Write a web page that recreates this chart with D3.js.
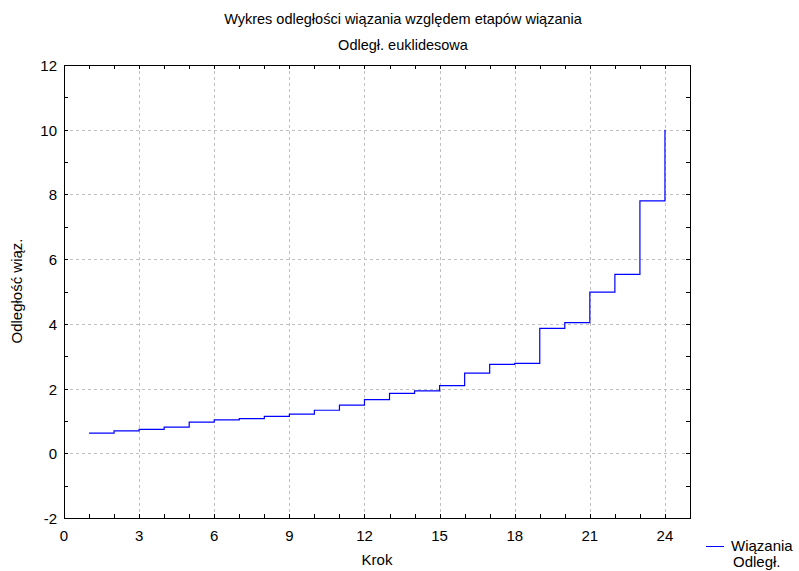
<!DOCTYPE html>
<html>
<head>
<meta charset="utf-8">
<script src="https://cdn.jsdelivr.net/npm/d3@7"></script>
<style>
body { margin: 0; background: #fff; }
text { font-family: "Liberation Sans", Arial, sans-serif; fill: #000; }
</style>
</head>
<body>
<div id="viz"></div>
<script>
// kroki wiązania i odległości
var steps = [1,2,3,4,5,6,7,8,9,10,11,12,13,14,15,16,17,18,19,20,21,22,23,24];
var distances = [0.62,0.69,0.74,0.81,0.96,1.03,1.07,1.14,1.21,1.33,1.49,1.66,1.85,1.93,2.09,2.48,2.75,2.78,3.86,4.04,4.98,5.53,7.80,10.0];
var xTicks = [0,3,6,9,12,15,18,21,24];
var yTicks = [-2,0,2,4,6,8,10,12];

var width = 799, height = 571;
var margin = {top: 65, right: 109, bottom: 53, left: 64};
var w = width - margin.left - margin.right;
var h = height - margin.top - margin.bottom;

var svg = d3.select("#viz").append("svg")
	.attr("width", width)
	.attr("height", height);

var x = d3.scaleLinear().domain([0, 25]).range([0, w]);
var y = d3.scaleLinear().domain([-2, 12]).range([h, 0]);

var g = svg.append("g").attr("transform", "translate(" + margin.left + "," + margin.top + ")");

// siatka
g.selectAll(".gx").data(xTicks.filter(d => d > 0))
	.enter().append("line")
	.attr("x1", d => Math.round(x(d)) + 0.5).attr("x2", d => Math.round(x(d)) + 0.5)
	.attr("y1", 0).attr("y2", h)
	.attr("stroke", "#c0c0c0").attr("stroke-dasharray", "3,3");
g.selectAll(".gy").data(yTicks.filter(d => d > -2 && d < 12))
	.enter().append("line")
	.attr("y1", d => Math.round(y(d)) + 0.5).attr("y2", d => Math.round(y(d)) + 0.5)
	.attr("x1", 0).attr("x2", w)
	.attr("stroke", "#c0c0c0").attr("stroke-dasharray", "3,3");

// osie (tick do środka)
var xAll = d3.range(0, 26), yAll = d3.range(-2, 13);
function ticksOn(sel, data, horiz, pos, dir) {
	sel.selectAll(null).data(data).enter().append("line")
		.attr("stroke", "#000")
		.each(function(d) {
			var l = d3.select(this);
			if (horiz) {
				var px = Math.round(x(d)) + 0.5;
				l.attr("x1", px).attr("x2", px).attr("y1", pos).attr("y2", pos + dir * 4);
			} else {
				var py = Math.round(y(d)) + 0.5;
				l.attr("y1", py).attr("y2", py).attr("x1", pos).attr("x2", pos + dir * 4);
			}
		});
}
ticksOn(g, xAll, true, h, -1);
ticksOn(g, xAll, true, 0, 1);
ticksOn(g, yAll, false, 0, 1);
ticksOn(g, yAll, false, w, -1);

g.append("rect")
	.attr("x", 0.5).attr("y", 0.5)
	.attr("width", w).attr("height", h)
	.attr("fill", "none").attr("stroke", "#000");

g.selectAll(".xl").data(xTicks).enter().append("text")
	.attr("x", d => x(d)).attr("y", h + 23)
	.attr("text-anchor", "middle").style("font-size", "15px")
	.text(d => d);
g.selectAll(".yl").data(yTicks).enter().append("text")
	.attr("x", -7).attr("y", d => y(d) + 6)
	.attr("text-anchor", "end").style("font-size", "15px")
	.text(d => d);

// linia schodkowa
var line = d3.line()
	.x(d => x(d[0])).y(d => y(d[1]))
	.curve(d3.curveStepAfter);
g.append("path")
	.datum(steps.map((s, i) => [s, distances[i]]))
	.attr("d", line)
	.attr("fill", "none").attr("stroke", "#0000ff").attr("stroke-width", 1.2);

// tytuły
svg.append("text").attr("x", 403).attr("y", 24).attr("text-anchor", "middle")
	.style("font-size", "14.5px").text("Wykres odległości wiązania względem etapów wiązania");
svg.append("text").attr("x", 403).attr("y", 50).attr("text-anchor", "middle")
	.style("font-size", "14.5px").text("Odległ. euklidesowa");
svg.append("text").attr("x", 377).attr("y", 565).attr("text-anchor", "middle")
	.style("font-size", "15px").text("Krok");
svg.append("text").attr("transform", "translate(22,291) rotate(-90)").attr("text-anchor", "middle")
	.style("font-size", "15px").text("Odległość wiąz.");

// legenda
svg.append("line").attr("x1", 706).attr("x2", 724).attr("y1", 546.5).attr("y2", 546.5)
	.attr("stroke", "#0000ff");
svg.append("text").attr("x", 731).attr("y", 551).style("font-size", "15px").text("Wiązania");
svg.append("text").attr("x", 733).attr("y", 567).style("font-size", "15px").text("Odległ.");
</script>
</body>
</html>
